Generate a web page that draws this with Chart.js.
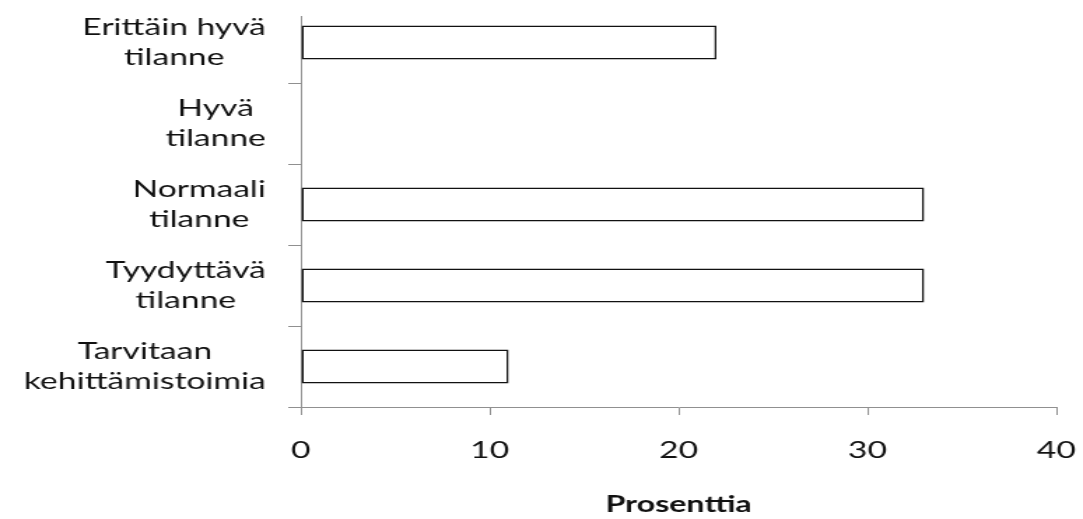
<!DOCTYPE html>
<html>
<head>
<meta charset="utf-8">
<script src="https://cdn.jsdelivr.net/npm/chart.js@4/dist/chart.umd.min.js"></script>
<style>
  html, body { margin: 0; padding: 0; background: #fff; overflow: hidden; }
  #wrap { width: 774px; height: 519px; transform-origin: 0 0; transform: scaleX(1.3992); }
</style>
</head>
<body>
<div id="wrap"><canvas id="c"></canvas></div>
<script>
const categories = [
  ['Erittäin hyvä', 'tilanne'],
  ['Hyvä', 'tilanne'],
  ['Normaali', 'tilanne'],
  ['Tyydyttävä', 'tilanne'],
  ['Tarvitaan', 'kehittämistoimia']
];
const values = [22, 0, 33, 33, 11];
const xTicks = [0, 10, 20, 30, 40];
const axisTitle = 'Prosenttia';

const FONT = 'Lato, "Open Sans", sans-serif';
const AXIS = '#909090';

const labelPlugin = {
  id: 'blockLabels',
  beforeDatasetsDraw(chart) {
    const ys = chart.scales.y;
    const ctx = chart.ctx;
    ctx.save();
    ctx.strokeStyle = AXIS;
    ctx.lineWidth = 1;
    ctx.beginPath();
    ctx.moveTo(ys.right + 0.5, chart.chartArea.top + 14);
    ctx.lineTo(ys.right + 0.5, chart.chartArea.bottom);
    ctx.stroke();
    ctx.restore();
  },
  afterDraw(chart) {
    const ys = chart.scales.y;
    const ctx = chart.ctx;
    ctx.save();
    ctx.font = '24px ' + FONT;
    ctx.fillStyle = '#111';
    ctx.textAlign = 'center';
    ctx.textBaseline = 'middle';
    const lineH = 30;
    categories.forEach((lines, i) => {
      const y = ys.getPixelForValue(i);
      const w = Math.max(...lines.map(l => ctx.measureText(l).width));
      const cx = ys.right - 25 - w / 2;
      lines.forEach((l, j) => {
        ctx.fillText(l, cx, y + (j - (lines.length - 1) / 2) * lineH);
      });
    });
    ctx.restore();
  }
};

new Chart(document.getElementById('c'), {
  type: 'bar',
  data: {
    labels: categories,
    datasets: [{
      data: values,
      backgroundColor: '#ffffff',
      borderColor: '#111111',
      borderWidth: 1.5,
      borderSkipped: false,
      barPercentage: 0.42,
      categoryPercentage: 1.0
    }]
  },
  options: {
    indexAxis: 'y',
    responsive: true,
    maintainAspectRatio: false,
    animation: false,
    events: [],
    layout: { padding: { top: 2, right: 19, left: 0, bottom: 0 } },
    plugins: { legend: { display: false }, tooltip: { enabled: false } },
    scales: {
      x: {
        min: xTicks[0],
        max: xTicks[xTicks.length - 1],
        afterBuildTicks(s) { s.ticks = xTicks.map(v => ({ value: v })); },
        afterFit(s) { s.height = 112; s.paddingRight = 0; s.paddingLeft = 0; },
        grid: { drawOnChartArea: false, drawTicks: true, tickLength: 8, color: AXIS },
        border: { color: AXIS, width: 1 },
        ticks: { font: { family: FONT, size: 24 }, color: '#111', padding: 21, maxRotation: 0 },
        title: { display: true, text: axisTitle, font: { family: FONT, size: 23, weight: 'bold' }, color: '#111', padding: { top: 0, bottom: 1 } }
      },
      y: {
        afterFit(s) { s.width = 215; s.paddingTop = 0; s.paddingBottom = 0; },
        grid: {
          drawOnChartArea: false, drawTicks: true, tickLength: 9, offset: true,
          color: (c) => c.index === 0 ? 'rgba(0,0,0,0)' : AXIS
        },
        border: { display: false },
        ticks: { display: false }
      }
    }
  },
  plugins: [labelPlugin]
});
</script>
</body>
</html>
